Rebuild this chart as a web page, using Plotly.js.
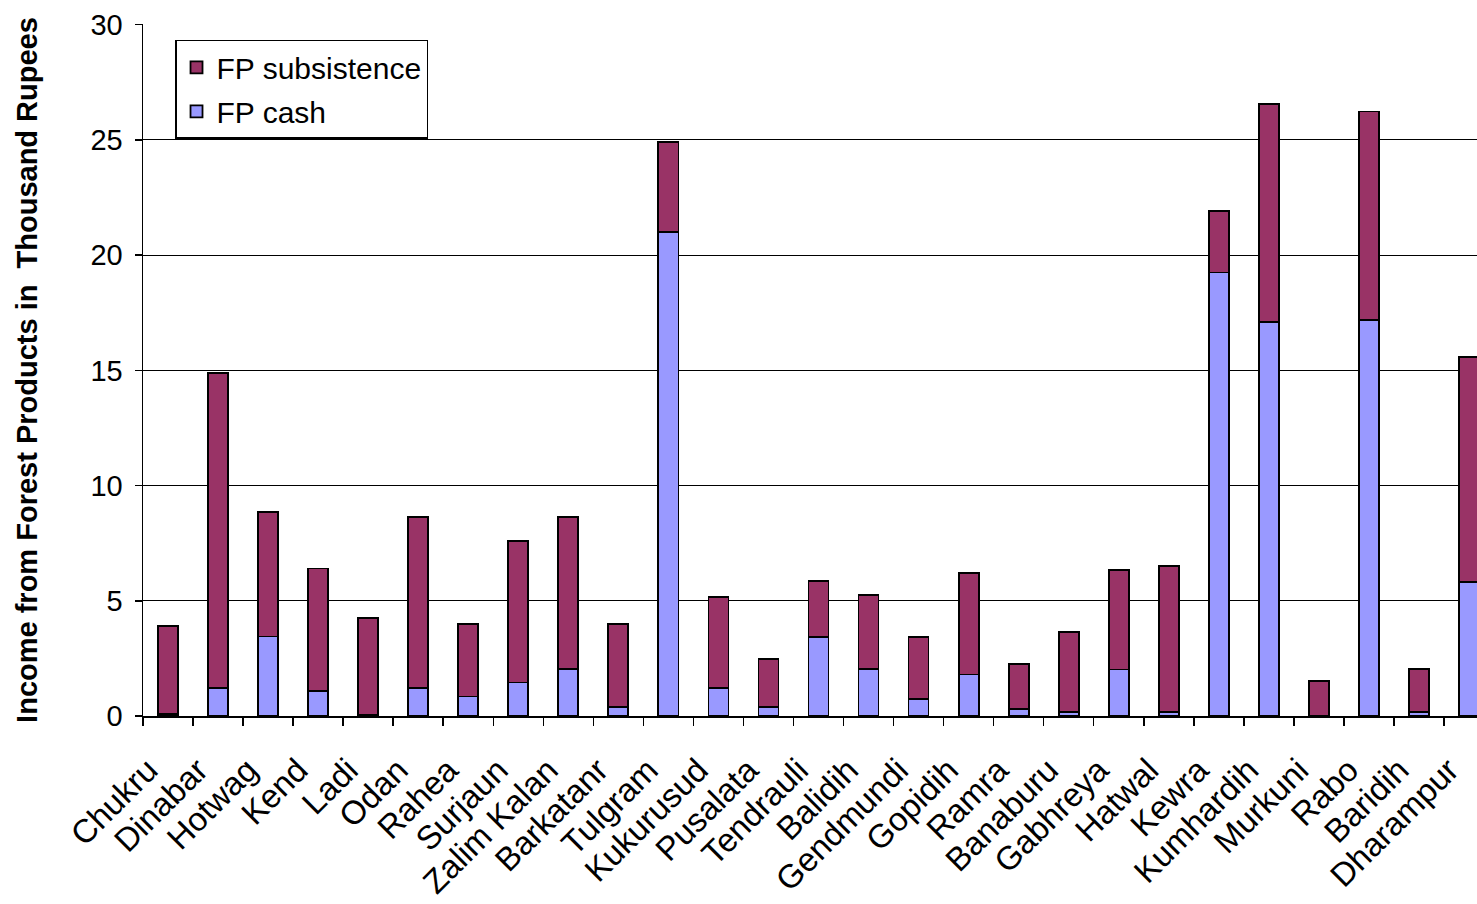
<!DOCTYPE html>
<html>
<head>
<meta charset="utf-8">
<script src="https://cdn.plot.ly/plotly-3.0.1.min.js"></script>
<style>html,body{margin:0;padding:0;background:#fff;overflow:hidden}</style>
</head>
<body>
<div id="chart" style="width:1477px;height:904px"></div>
<script>
const villages = ["Chukru","Dinabar","Hotwag","Kend","Ladi","Odan","Rahea","Surjaun","Zalim Kalan","Barkatanr","Tulgram","Kukurusud","Pusalata","Tendrauli","Balidih","Gendmundi","Gopidih","Ramra","Banaburu","Gabhreya","Hatwal","Kewra","Kumhardih","Murkuni","Rabo","Baridih","Dharampur"];
const fpCash = [0.1, 1.2, 3.45, 1.1, 0.05, 1.2, 0.85, 1.45, 2.03, 0.4, 21.0, 1.2, 0.4, 3.42, 2.03, 0.75, 1.8, 0.3, 0.17, 2.02, 0.18, 19.25, 17.1, 0.0, 17.2, 0.18, 5.83];
const fpSubsistence = [3.8, 13.7, 5.4, 5.3, 4.2, 7.44, 3.15, 6.15, 6.6, 3.6, 3.9, 3.96, 2.08, 2.45, 3.23, 2.68, 4.42, 1.97, 3.48, 4.3, 6.33, 2.68, 9.45, 1.53, 9.03, 1.85, 9.75];
const yTicks = [0, 5, 10, 15, 20, 25, 30];

const line = {color: "#000", width: 1.8};
const traces = [
  {type: "bar", name: "FP cash", legendgroup: "cash", legendrank: 2, x: villages, y: fpCash, width: 0.4,
   marker: {color: "#9999FF", line: line}},
  {type: "bar", name: "FP subsistence", legendgroup: "subs", legendrank: 1, x: villages, y: fpSubsistence, width: 0.4,
   marker: {color: "#993366", line: line}}
];

const font = {family: "Liberation Sans, Arial, sans-serif", color: "#000"};
const layout = {
  width: 1477, height: 904,
  margin: {l: 143, r: 0, t: 24, b: 188},
  paper_bgcolor: "#fff", plot_bgcolor: "#fff",
  barmode: "stack",
  font: Object.assign({size: 28}, font),
  showlegend: true,
  legend: {
    x: 0.024, y: 0.977, xanchor: "left", yanchor: "top",
    traceorder: "grouped",
    tracegroupgap: 2,
    bgcolor: "#fff", bordercolor: "#000", borderwidth: 1.5,
    font: Object.assign({size: 30}, font)
  },
  xaxis: {
    type: "category",
    range: [-0.5, 26.16],
    tickangle: -45,
    tickson: "boundaries",
    ticks: "outside", ticklen: 8, tickwidth: 1.5, tickcolor: "#000",
    ticklabelstandoff: 20,
    ticklabelshift: -20,
    showline: true, linecolor: "#000", linewidth: 1.5,
    showgrid: false, zeroline: false,
    tickfont: Object.assign({size: 33}, font),
    fixedrange: true
  },
  yaxis: {
    range: [0, 30.03],
    tickvals: yTicks, ticktext: yTicks.map(String),
    ticks: "outside", ticklen: 7, tickwidth: 1.5, tickcolor: "#000",
    ticklabelstandoff: 6,
    showline: true, linecolor: "#000", linewidth: 1.5,
    showgrid: true, gridcolor: "#000", gridwidth: 1,
    zeroline: false,
    tickfont: Object.assign({size: 29}, font),
    title: {text: "<b>Income from Forest Products in  Thousand Rupees</b>", font: Object.assign({size: 29}, font), standoff: 44},
    fixedrange: true
  }
};

Plotly.newPlot("chart", traces, layout, {displayModeBar: false, staticPlot: true});
</script>
</body>
</html>
